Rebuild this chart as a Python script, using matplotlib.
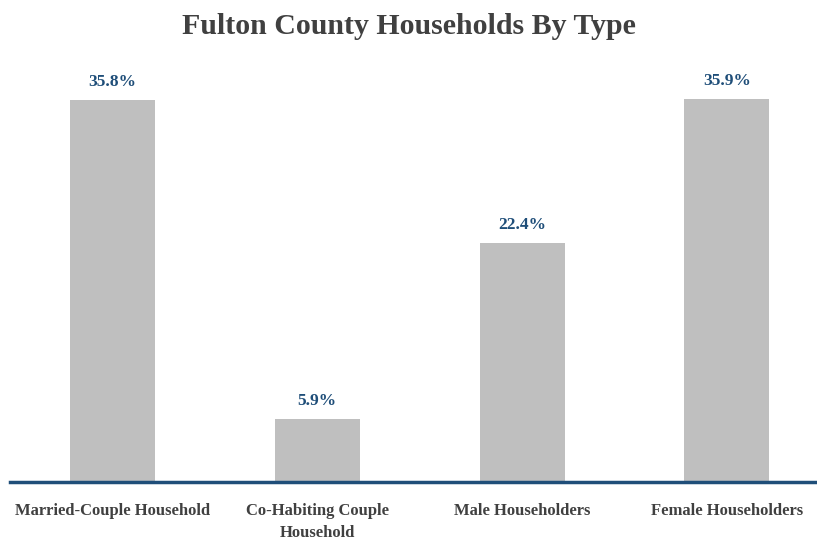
import matplotlib.pyplot as plt

# Household type shares for Fulton County
categories = ["Married-Couple Household", "Co-Habiting Couple\nHousehold",
              "Male Householders", "Female Householders"]
shares = [35.8, 5.9, 22.4, 35.9]
value_labels = ["35.8%", "5.9%", "22.4%", "35.9%"]

plt.rcParams['font.family'] = ['Liberation Serif', 'DejaVu Serif']

fig = plt.figure(figsize=(8.17, 5.42), dpi=100)
ax = fig.add_axes([10 / 817, 60 / 542, 807 / 817, 427 / 542])

x = range(len(categories))
bars = ax.bar(x, shares, width=0.415, color="#BFBFBF", zorder=2)

for b, lab in zip(bars, value_labels):
    ax.annotate(lab, (b.get_x() + b.get_width() / 2, b.get_height()),
                xytext=(0, 7), textcoords="offset points",
                ha="center", va="bottom", fontsize=12.5, fontweight="bold",
                color="#1F4E79")

ax.set_xlim(-0.5, 3.44)
ax.set_ylim(0, 40)
ax.set_xticks(list(x))
ax.set_xticklabels(categories, fontsize=12, fontweight="bold", color="#404040",
                   linespacing=1.55)
ax.tick_params(axis="x", length=0, pad=15)
ax.set_yticks([])

for s in ["top", "right", "left"]:
    ax.spines[s].set_visible(False)
ax.spines["bottom"].set_color("#1F4E79")
ax.spines["bottom"].set_linewidth(2.5)
ax.spines["bottom"].set_zorder(3)

fig.text(0.5, 1 - 27 / 542, "Fulton County Households By Type", ha="center",
         va="center", fontsize=21.5, fontweight="bold", color="#404040")

fig.savefig("out.png", dpi=100)
